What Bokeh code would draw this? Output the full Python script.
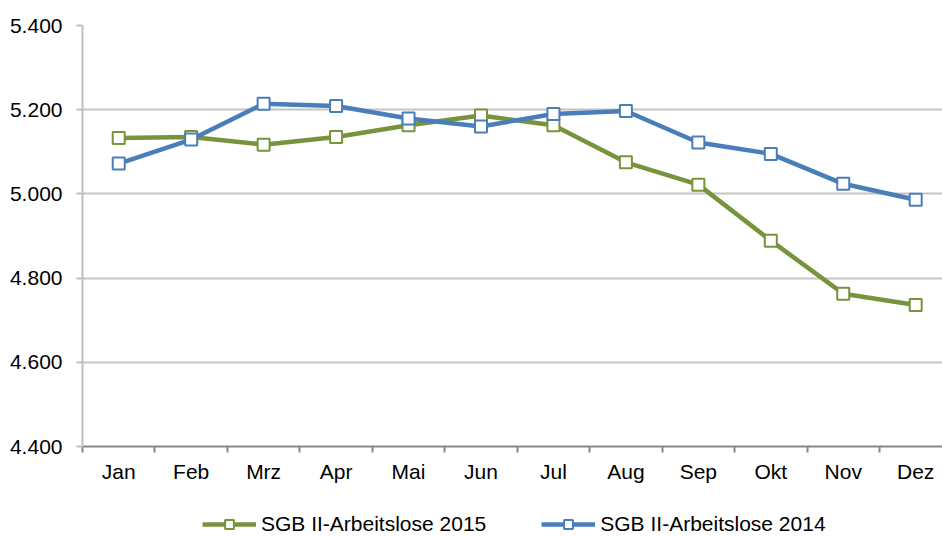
from bokeh.plotting import figure
from bokeh.layouts import column
from bokeh.models import FixedTicker, Legend, LegendItem, Range1d
from bokeh.embed import file_html
from bokeh.resources import INLINE

months = ["Jan", "Feb", "Mrz", "Apr", "Mai", "Jun", "Jul", "Aug", "Sep", "Okt", "Nov", "Dez"]
sgb_2015 = [5133, 5135, 5117, 5135, 5163, 5186, 5163, 5075, 5022, 4889, 4763, 4736]
sgb_2014 = [5072, 5129, 5214, 5209, 5179, 5160, 5190, 5197, 5122, 5095, 5024, 4986]
y_ticks = [4400, 4600, 4800, 5000, 5200, 5400]
y_tick_labels = ["4.400", "4.600", "4.800", "5.000", "5.200", "5.400"]
series_names = ["SGB II-Arbeitslose 2015", "SGB II-Arbeitslose 2014"]

GREEN = "#77933C"
BLUE = "#4A7EBB"
FONT = "Liberation Sans"

xs = [i + 0.5 for i in range(len(months))]

p = figure(frame_width=860, frame_height=421, output_backend="svg", toolbar_location=None,
           x_range=Range1d(0, 11.87), y_range=Range1d(4400, 5400))
p.min_border_left = 82
p.min_border_top = 25
p.min_border_right = 0
p.min_border_bottom = 42
p.outline_line_color = None
p.background_fill_color = "white"
p.border_fill_color = "white"

# x axis: labels at category centres, tick marks at boundaries
p.xaxis.ticker = FixedTicker(ticks=xs, minor_ticks=list(range(0, 13)))
p.xaxis.major_label_overrides = {x: m for x, m in zip(xs, months)}
p.xaxis.major_tick_line_color = None
p.xaxis.minor_tick_line_color = "#868686"
p.xaxis.minor_tick_line_width = 2
p.xaxis.minor_tick_out = 6
p.xaxis.minor_tick_in = 0
p.xaxis.axis_line_color = "#868686"
p.xaxis.axis_line_width = 2
p.xaxis.major_label_text_font = FONT
p.xaxis.major_label_text_font_size = "21px"
p.xaxis.major_label_text_color = "black"
p.xaxis.major_label_standoff = 7
p.xgrid.grid_line_color = None

p.yaxis.ticker = FixedTicker(ticks=y_ticks)
p.yaxis.major_label_overrides = {t: l for t, l in zip(y_ticks, y_tick_labels)}
p.yaxis.minor_tick_line_color = None
p.yaxis.major_tick_line_color = "#BFBFBF"
p.yaxis.major_tick_line_width = 2
p.yaxis.major_tick_out = 6
p.yaxis.major_tick_in = 0
p.yaxis.axis_line_color = "#BFBFBF"
p.yaxis.axis_line_width = 2
p.yaxis.major_label_text_font = FONT
p.yaxis.major_label_text_font_size = "21px"
p.yaxis.major_label_text_color = "black"
p.yaxis.major_label_standoff = 14
p.ygrid.grid_line_color = "#C4C4C4"
p.ygrid.grid_line_width = 2

line_kw = dict(line_width=4.5)
mark_kw = dict(marker="square", size=12, fill_color="white", line_width=2)

p.line(xs, sgb_2015, line_color=GREEN, **line_kw)
p.scatter(xs, sgb_2015, line_color=GREEN, **mark_kw)
p.line(xs, sgb_2014, line_color=BLUE, **line_kw)
p.scatter(xs, sgb_2014, line_color=BLUE, **mark_kw)

# legend strip below the chart (its glyphs lie outside its own visible range)
lg = figure(width=942, height=49, output_backend="svg", toolbar_location=None,
            x_axis_type=None, y_axis_type=None,
            x_range=Range1d(0, 1), y_range=Range1d(0, 1))
lg.min_border = 0
lg.outline_line_color = None
lg.background_fill_color = "white"
lg.border_fill_color = "white"

gl15 = lg.line(xs, sgb_2015, line_color=GREEN, **line_kw)
gs15 = lg.scatter(xs, sgb_2015, line_color=GREEN, **mark_kw)
gl14 = lg.line(xs, sgb_2014, line_color=BLUE, **line_kw)
gs14 = lg.scatter(xs, sgb_2014, line_color=BLUE, **mark_kw)

legend = Legend(items=[LegendItem(label=series_names[0], renderers=[gl15, gs15]),
                       LegendItem(label=series_names[1], renderers=[gl14, gs14])],
                orientation="horizontal", location=(120, 1))
legend.label_text_font = FONT
legend.label_text_font_size = "21px"
legend.label_text_color = "black"
legend.label_height = 22
legend.glyph_width = 54
legend.glyph_height = 22
legend.label_standoff = 5
legend.spacing = 55
legend.border_line_color = None
legend.background_fill_alpha = 0
legend.margin = 0
legend.padding = 0
lg.add_layout(legend)

layout = column(p, lg, spacing=0)
open("out.html", "w").write(file_html(layout, INLINE))
